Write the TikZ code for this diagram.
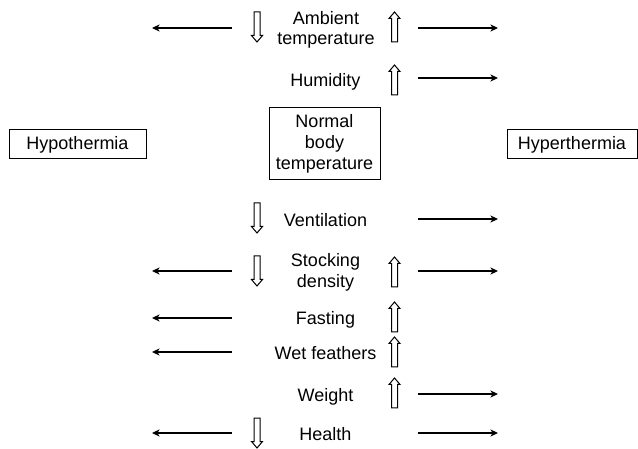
\documentclass[tikz,border=0pt]{standalone}
\usepackage{fontspec}
\setmainfont{Liberation Sans}
\usetikzlibrary{arrows.meta}
\begin{document}
\begin{tikzpicture}[x=1pt,y=-1pt,
  lbl/.style={font=\fontsize{18}{20.5}\selectfont, align=center, inner sep=0pt},
  statebox/.style={draw, line width=1pt, font=\fontsize{18}{21}\selectfont, align=center, inner sep=0pt},
  effect/.style={line width=1.2pt, -{Stealth[length=7.5pt,width=7pt,inset=2pt]}},
  hollow/.style={draw, line width=1pt, fill=white, line join=miter},
  uparr/.pic={\path[hollow] (-3,30) -- (-3,6.5) -- (-5.5,6.5) -- (0,0) -- (5.5,6.5) -- (3,6.5) -- (3,30) -- cycle;},
  downarr/.pic={\path[hollow] (-3,0) -- (-3,23.5) -- (-5.5,23.5) -- (0,30) -- (5.5,23.5) -- (3,23.5) -- (3,0) -- cycle;}
]
\useasboundingbox (0,0) rectangle (638,449);

% state boxes
\node[statebox, minimum width=137pt, minimum height=29pt] (hypo) at (77.5,144.5) {Hypothermia};
\node[statebox, minimum width=111pt, minimum height=72pt] (normal) at (324.5,144) {Normal\\body\\temperature};
\node[statebox, minimum width=130pt, minimum height=29pt] (hyper) at (572,144.5) {Hyperthermia};

% factor labels
\node[lbl] (amb)  at (326,30)    {Ambient\\temperature};
\node[lbl] (hum)  at (325.5,81.5) {Humidity};
\node[lbl] (ven)  at (325.5,220) {Ventilation};
\node[lbl] (sto)  at (325.5,272.5) {Stocking\\density};
\node[lbl] (fas)  at (325.5,320) {Fasting};
\node[lbl] (wet)  at (325.5,353.5) {Wet feathers};
\node[lbl] (wei)  at (325.5,397) {Weight};
\node[lbl] (hea)  at (325.5,434.5) {Health};

% hollow up/down arrows
\pic at (257,12) {downarr};
\pic at (394.5,12) {uparr};
\pic at (394.5,65) {uparr};
\pic at (257,203) {downarr};
\pic at (257,256) {downarr};
\pic at (394.5,257) {uparr};
\pic at (394.5,302) {uparr};
\pic at (394.5,337) {uparr};
\pic at (394.5,378) {uparr};
\pic at (257,418) {downarr};

% endpoints of effect arrows
\foreach \n/\y in {amb/28, sto/271, fas/318, wet/352, hea/433}{
  \coordinate (\n-ls) at (232,\y);
  \coordinate (\n-le) at (152,\y);
}
\foreach \n/\y in {amb/28, hum/78, ven/219, sto/271, wei/394, hea/433}{
  \coordinate (\n-rs) at (418,\y);
  \coordinate (\n-re) at (498,\y);
}
\foreach \n in {amb, sto, fas, wet, hea}{ \draw[effect] (\n-ls) -- (\n-le); }
\foreach \n in {amb, hum, ven, sto, wei, hea}{ \draw[effect] (\n-rs) -- (\n-re); }
\end{tikzpicture}
\end{document}
